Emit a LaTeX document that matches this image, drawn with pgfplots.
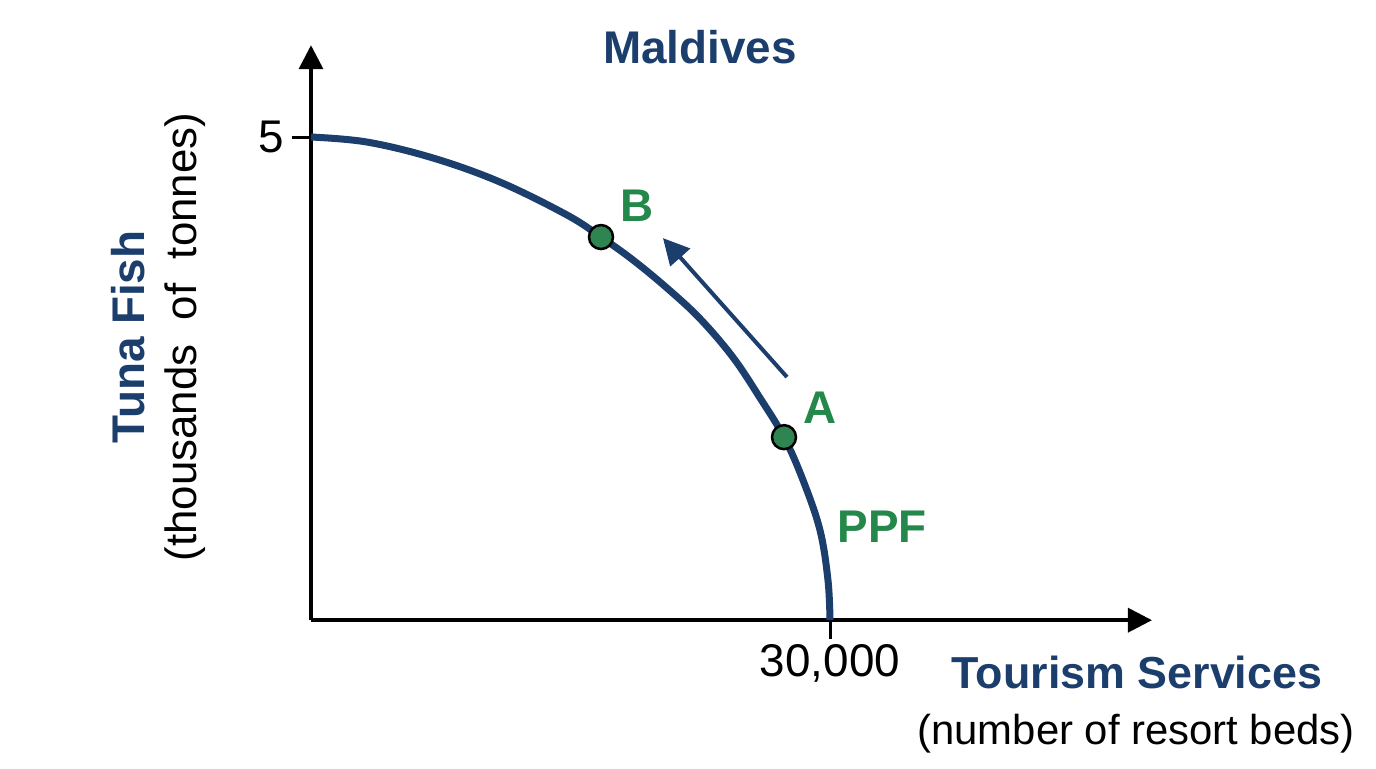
\documentclass[border=0pt]{standalone}
\usepackage{fontspec}
\setmainfont{Liberation Sans}
\usepackage{pgfplots}
\pgfplotsset{compat=1.18}
\usetikzlibrary{arrows.meta}

\definecolor{navy}{HTML}{1B3E6C}
\definecolor{ppfgreen}{HTML}{23884A}
\definecolor{dotgreen}{HTML}{2E8552}

\newcommand{\bigfs}{\fontsize{46}{52}\selectfont}
\newcommand{\midfs}{\fontsize{44}{50}\selectfont}
\newcommand{\thirtyk}{30,000}

\begin{document}
\begin{tikzpicture}
\begin{axis}[
    scale only axis,
    width=841bp, height=575bp,
    xmin=0, xmax=48610,
    ymin=0, ymax=5.95,
    axis lines=left,
    axis line style={line width=3.5bp, -{Triangle[length=24bp,width=24bp]}},
    clip=false,
    scaled x ticks=false,
    xtick={30000}, xticklabels={\thirtyk},
    ytick={5}, yticklabels={5},
    tick align=outside,
    major tick length=19bp,
    tick style={line width=3bp, black},
    /pgf/number format/assume math mode=true,
    ticklabel style={font=\fontsize{46}{50}\selectfont},
    xticklabel style={yshift=-2bp},
    yticklabel style={xshift=-4bp},
]
% invisible frame that fixes the page size
\path (axis cs:-17977,-1.532) rectangle (axis cs:61560,6.418);

% PPF curve
\addplot[navy, line width=7bp, smooth, tension=0.6] coordinates {
    (0, 5.0)
    (3237, 4.948)
    (7052, 4.783)
    (10925, 4.534)
    (14798, 4.193)
    (16763, 3.965)
    (18613, 3.727)
    (20578, 3.437)
    (22486, 3.120)
    (24393, 2.720)
    (25954, 2.300)
    (27341, 1.894)
    (28440, 1.449)
    (29420, 0.932)
    (29883, 0.414)
    (30000, 0)
};

% movement from A to B
\draw[navy, line width=4bp, -{Triangle[length=26bp,width=26bp]}]
    (axis cs:27513,2.516) -- (axis cs:20346,3.954);

% points A and B
\addplot[only marks, mark=*, mark size=12bp,
    mark options={fill=dotgreen, draw=black, line width=2.5bp}] coordinates {
    (16763, 3.965)
    (27341, 1.894)
};

\node[text=ppfgreen, font=\bfseries\bigfs] at (axis cs:18844,4.286) {B};
\node[text=ppfgreen, font=\bfseries\bigfs] at (axis cs:29422,2.195) {A};
\node[text=ppfgreen, font=\bfseries\bigfs] at (axis cs:33006,0.963) {PPF};

% titles and axis labels
\node[text=navy, font=\bfseries\bigfs] at (axis cs:22486,5.932) {Maldives};
\node[text=navy, font=\bfseries\bigfs, rotate=90] at (axis cs:-10578,2.93) {Tuna Fish};
\node[font=\midfs, rotate=90] at (axis cs:-7283,2.93) {(thousands\ \ of\ \ tonnes)};
\node[text=navy, font=\bfseries\fontsize{45}{50}\selectfont, anchor=base] at (axis cs:47745,-0.704) {Tourism Services};
\node[font=\fontsize{42}{48}\selectfont, anchor=base] at (axis cs:47688,-1.284) {(number of resort beds)};
\end{axis}
\end{tikzpicture}
\end{document}
